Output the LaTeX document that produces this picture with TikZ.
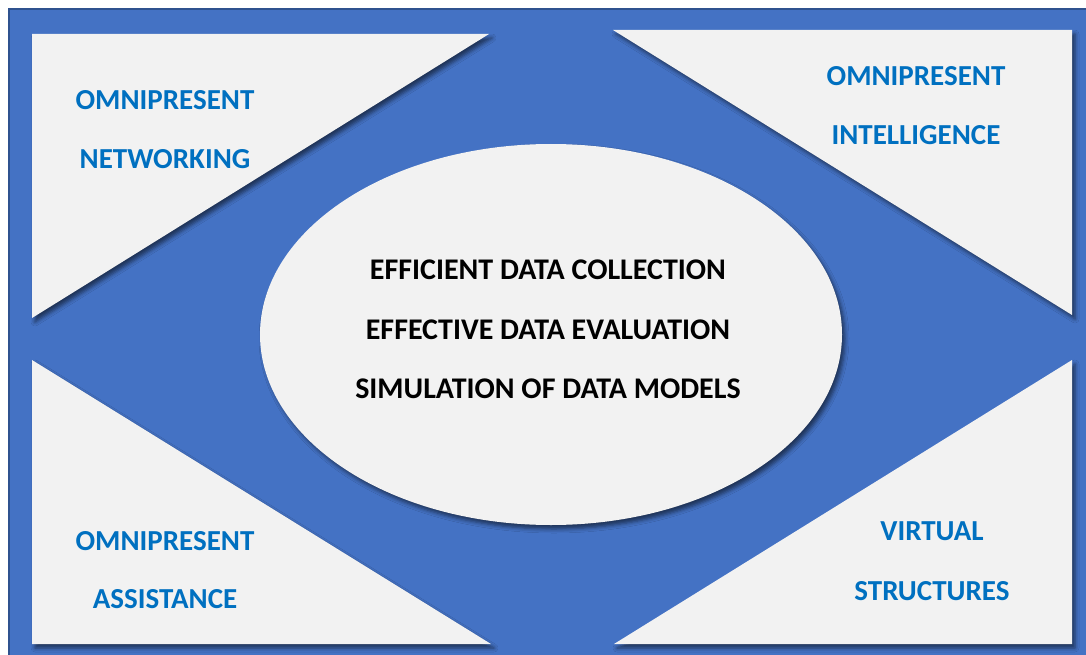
\documentclass[tikz,border=0pt]{standalone}
\usepackage{fontspec}
\setmainfont{Carlito}
\usetikzlibrary{shadows.blur,shapes.geometric}
\definecolor{bgblue}{HTML}{4472C4}
\definecolor{edgeblue}{HTML}{2F528F}
\definecolor{panel}{HTML}{F2F2F2}
\definecolor{txtblue}{HTML}{0070C0}
\tikzset{
  panelshape/.style={fill=panel, draw=none,
    blur shadow={shadow xshift=3pt, shadow yshift=-4pt, shadow blur radius=4pt, shadow opacity=55}},
  cornertext/.style={font=\bfseries\fontsize{29}{31}\selectfont, text=txtblue, inner sep=0pt, anchor=center},
  centertext/.style={font=\bfseries\fontsize{30}{32}\selectfont, text=black, inner sep=0pt, anchor=center}
}
\begin{document}
\begin{tikzpicture}[x=1pt,y=-1pt]
\useasboundingbox (0,0) rectangle (1086,655);
\fill[white] (0,0) rectangle (1086,655);
\draw[fill=bgblue, draw=edgeblue, line width=1.2pt] (9,9) rectangle (1100,670);
% corner panels
\path[panelshape] (32,34) -- (489,34) -- (32,318) -- cycle;
\path[panelshape] (613,30) -- (1072,30) -- (1072,315) -- cycle;
\path[panelshape] (32,360) -- (491,644) -- (32,644) -- cycle;
\path[panelshape] (1072,360) -- (1072,644) -- (614,644) -- cycle;
% central ellipse
\node[panelshape, ellipse, minimum width=582pt, minimum height=381pt, inner sep=0pt] (core) at (551,334.5) {};
% centre texts
\node[centertext] (c1) at (548,270) {EFFICIENT DATA COLLECTION};
\node[centertext] (c2) at (548,330) {EFFECTIVE DATA EVALUATION};
\node[centertext] (c3) at (548,389) {SIMULATION OF DATA MODELS};
% corner texts
\node[cornertext] (tl1) at (165,100) {OMNIPRESENT};
\node[cornertext] (tl2) at (165,159) {NETWORKING};
\node[cornertext] (tr1) at (916,76) {OMNIPRESENT};
\node[cornertext] (tr2) at (916,135) {INTELLIGENCE};
\node[cornertext] (bl1) at (165,541) {OMNIPRESENT};
\node[cornertext] (bl2) at (165,599) {ASSISTANCE};
\node[cornertext] (br1) at (932,531) {VIRTUAL};
\node[cornertext] (br2) at (932,591) {STRUCTURES};
\end{tikzpicture}
\end{document}
